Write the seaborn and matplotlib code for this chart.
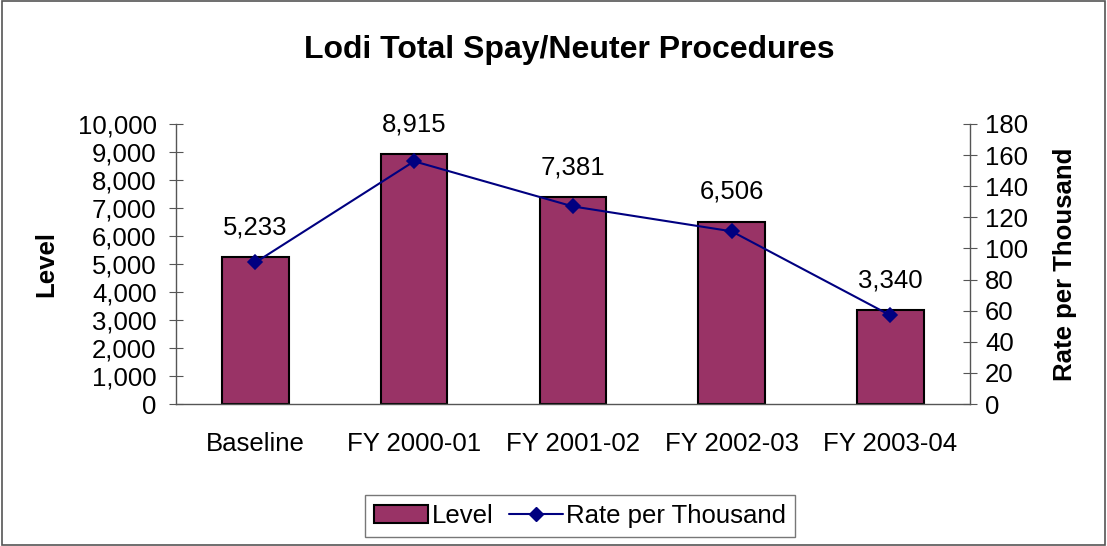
import matplotlib
matplotlib.use("Agg")
import matplotlib.pyplot as plt
import seaborn as sns
import pandas as pd
from matplotlib.patches import Rectangle
from matplotlib.ticker import FuncFormatter, FixedLocator

categories = ["Baseline", "FY 2000-01", "FY 2001-02", "FY 2002-03", "FY 2003-04"]
level = [5233, 8915, 7381, 6506, 3340]
rate = [91, 156, 127, 111, 57]

df = pd.DataFrame({"period": categories, "Level": level, "Rate": rate})

sns.set_style("white")
plt.rcParams["font.family"] = ["Liberation Sans", "DejaVu Sans"]
plt.rcParams["text.color"] = "black"
plt.rcParams["axes.labelcolor"] = "black"
plt.rcParams["xtick.color"] = "black"
plt.rcParams["ytick.color"] = "black"

fs = 18.5
fig = plt.figure(figsize=(11.07, 5.46), dpi=100)
ax = fig.add_axes([0.159, 0.26, 0.717, 0.513])

bar_color = "#993366"
sns.barplot(data=df, x="period", y="Level", ax=ax, color=bar_color,
            edgecolor="black", linewidth=1.5, width=0.42, saturation=1)
ax.bar_label(ax.containers[0], labels=[f"{v:,}" for v in level],
             padding=13, fontsize=fs)

ax.set_ylim(0, 10000)
ax.set_xlim(-0.5, 4.5)
ax.set_yticks(range(0, 10001, 1000))
ax.yaxis.set_major_formatter(FuncFormatter(lambda v, p: f"{int(v):,}"))
ax.xaxis.set_major_locator(FixedLocator([i - 0.5 for i in range(6)]))
ax.xaxis.set_minor_locator(FixedLocator(range(5)))
ax.set_xticklabels([""] * 6)
ax.set_xticklabels(categories, minor=True)
ax.tick_params(axis="x", which="major", direction="out", length=8, color="#555555")
ax.tick_params(axis="x", which="minor", length=0, labelsize=fs, pad=20)
ax.tick_params(axis="y", direction="inout", length=10, color="#555555",
               labelsize=fs, pad=9)
ax.set_xlabel("")
ax.set_ylabel("Level", fontsize=fs, fontweight="bold", labelpad=14)

ax2 = ax.twinx()
sns.pointplot(data=df, x="period", y="Rate", ax=ax2, color="#000080",
              markers="D", markersize=7, linewidth=1.5)
ax2.set_ylim(0, 180)
ax2.set_xlim(-0.5, 4.5)
ax2.set_yticks(range(0, 181, 20))
ax2.tick_params(axis="y", direction="inout", length=10, color="#555555",
                labelsize=fs, pad=6)
ax2.set_ylabel("Rate per Thousand", fontsize=fs, fontweight="bold", labelpad=18)
ax2.set_xlabel("")

for a in (ax, ax2):
    a.spines["top"].set_visible(False)
    for s in ("left", "right", "bottom"):
        a.spines[s].set_color("#555555")
        a.spines[s].set_linewidth(1)
ax.spines["right"].set_visible(False)
ax2.spines["left"].set_visible(False)
ax2.spines["bottom"].set_visible(False)

fig.suptitle("Lodi Total Spay/Neuter Procedures", fontsize=23,
             fontweight="bold", x=0.514, y=0.935)

handles = [
    Rectangle((0, 0), 1, 1, facecolor=bar_color, edgecolor="black", linewidth=1.5),
    plt.Line2D([], [], color="#000080", marker="D", markersize=7, linewidth=1.5),
]
leg = fig.legend(handles, ["Level", "Rate per Thousand"], loc="center",
                 bbox_to_anchor=(0.524, 0.055), ncol=2, fontsize=fs,
                 frameon=True, fancybox=False, edgecolor="#555555",
                 handlelength=2.1, handletextpad=0.15, columnspacing=0.6,
                 borderpad=0.35)
leg.get_frame().set_linewidth(1)

fig.patches.append(Rectangle((0.002, 0.002), 0.996, 0.996, transform=fig.transFigure,
                             fill=False, edgecolor="#555555", linewidth=1.2))

fig.savefig("out.png", dpi=100)
